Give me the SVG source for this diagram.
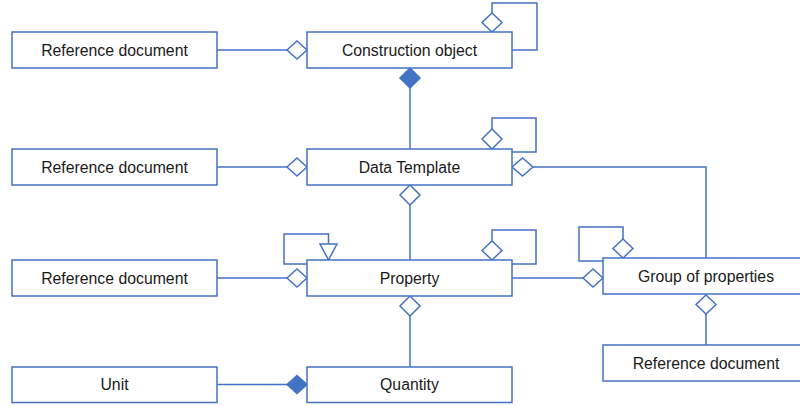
<svg xmlns="http://www.w3.org/2000/svg" width="800" height="406" viewBox="0 0 800 406">
<style>
.box{fill:#fff;stroke:#4472C4;stroke-width:1.5}
.t{font-family:"Liberation Sans",Arial,sans-serif;font-size:15.8px;fill:#1a1a1a;text-anchor:middle}
.ln{fill:none;stroke:#4472C4;stroke-width:1.5}
.od{fill:#fff;stroke:#4472C4;stroke-width:1.5}
.fd{fill:#4472C4;stroke:#4472C4;stroke-width:1.5}
</style>
<rect width="800" height="406" fill="#fff"/>
<g id="connectors">
<!-- ref1 - construction -->
<line class="ln" x1="217" y1="50" x2="287" y2="50"/>
<polygon class="od" points="287,50 297,41 307,50 297,59"/>
<!-- construction self -->
<path class="ln" d="M492 13 V3 H537 V50 H512"/>
<polygon class="od" points="492,13 502,22.5 492,32 482,22.5"/>
<!-- construction - data template -->
<line class="ln" x1="410" y1="88" x2="410" y2="149"/>
<polygon class="fd" points="410,68 420,78 410,88 400,78"/>
<!-- ref2 - DT -->
<line class="ln" x1="217" y1="167" x2="287" y2="167"/>
<polygon class="od" points="287,167 297,158 307,167 297,176"/>
<!-- DT self -->
<path class="ln" d="M492 129 V118 H536 V152 H512"/>
<polygon class="od" points="492,129 502,139 492,149 482,139"/>
<!-- DT - group -->
<path class="ln" d="M533 167 H706 V258"/>
<polygon class="od" points="512,167 522.5,158 533,167 522.5,176"/>
<!-- DT - property -->
<line class="ln" x1="410" y1="205" x2="410" y2="260"/>
<polygon class="od" points="410,185 420,195 410,205 400,195"/>
<!-- ref3 - property -->
<line class="ln" x1="217" y1="278" x2="287" y2="278"/>
<polygon class="od" points="287,278 297,269 307,278 297,287"/>
<!-- property generalization self -->
<path class="ln" d="M307 264 H284 V234 H328.5 V244"/>
<polygon class="od" points="320,244 337,244 328.5,260"/>
<!-- property aggregation self -->
<path class="ln" d="M492 241 V230 H536 V264 H512"/>
<polygon class="od" points="492,241 502,250.5 492,260 482,250.5"/>
<!-- property - group -->
<line class="ln" x1="512" y1="278" x2="583" y2="278"/>
<polygon class="od" points="583,278 593,269 603,278 593,287"/>
<!-- group self -->
<path class="ln" d="M603 261 H579 V227 H623 V239"/>
<polygon class="od" points="623,239 633,248.5 623,258 613,248.5"/>
<!-- group - ref4 -->
<line class="ln" x1="706" y1="314" x2="706" y2="345"/>
<polygon class="od" points="706,295 716,304.5 706,314 696,304.5"/>
<!-- property - quantity -->
<line class="ln" x1="410" y1="316" x2="410" y2="367"/>
<polygon class="od" points="410,296 420,306 410,316 400,306"/>
<!-- unit - quantity -->
<line class="ln" x1="217" y1="384.5" x2="287" y2="384.5"/>
<polygon class="fd" points="287,384.5 297,375.5 307,384.5 297,393.5"/>
</g>
<g id="ref1"><rect class="box" x="12" y="32" width="205" height="36"/><text class="t" x="114.5" y="55.5">Reference document</text></g>
<g id="construction"><rect class="box" x="307" y="32" width="205" height="36"/><text class="t" x="409.5" y="55.5">Construction object</text></g>
<g id="ref2"><rect class="box" x="12" y="149" width="205" height="36"/><text class="t" x="114.5" y="172.5">Reference document</text></g>
<g id="datatemplate"><rect class="box" x="307" y="149" width="205" height="36"/><text class="t" x="409.5" y="172.5">Data Template</text></g>
<g id="ref3"><rect class="box" x="12" y="260" width="205" height="36"/><text class="t" x="114.5" y="283.5">Reference document</text></g>
<g id="property"><rect class="box" x="307" y="260" width="205" height="36"/><text class="t" x="409.5" y="283.5">Property</text></g>
<g id="group"><rect class="box" x="603" y="258" width="206" height="36"/><text class="t" x="706" y="281.5">Group of properties</text></g>
<g id="ref4"><rect class="box" x="603" y="345" width="206" height="36"/><text class="t" x="706" y="368.5">Reference document</text></g>
<g id="unit"><rect class="box" x="12" y="367" width="205" height="35.5"/><text class="t" x="114.5" y="390">Unit</text></g>
<g id="quantity"><rect class="box" x="307" y="367" width="205" height="35.5"/><text class="t" x="409.5" y="390">Quantity</text></g>
</svg>
